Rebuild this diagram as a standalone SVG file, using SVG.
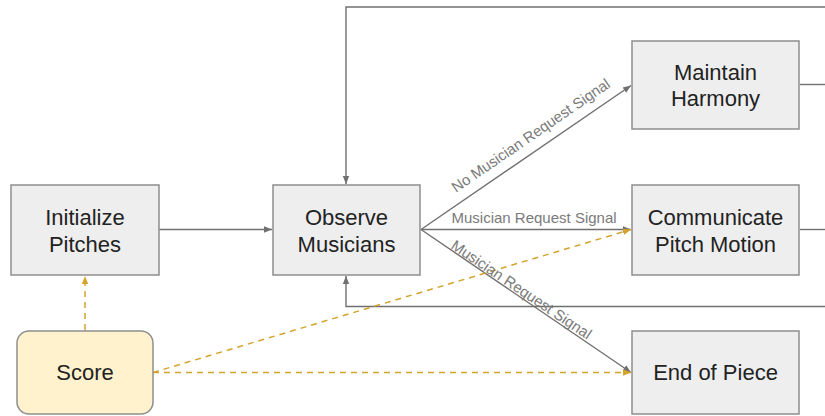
<svg xmlns="http://www.w3.org/2000/svg" width="825" height="416" viewBox="0 0 825 416">
<style>
.node{fill:#eeeeee;stroke:#8e8e8e;stroke-width:1.5}
.score{fill:#fff2cc;stroke:#8e8e8e;stroke-width:1.5}
.t{font-family:"Liberation Sans",Arial,sans-serif;font-size:22px;fill:#222;text-anchor:middle}
.c{fill:none;stroke:#707070;stroke-width:1.4}
.d{fill:none;stroke:#d4a42c;stroke-width:1.5;stroke-dasharray:6,5}
.lbl{font-family:"Liberation Sans",Arial,sans-serif;font-size:15px;fill:#7a7a7a}
</style>
<defs>
<marker id="ag" markerUnits="userSpaceOnUse" markerWidth="9" markerHeight="8" refX="8" refY="4" orient="auto"><path d="M0,0.8 L8,4 L0,7.2 z" fill="#707070"/></marker>
<marker id="ay" markerUnits="userSpaceOnUse" markerWidth="9" markerHeight="8" refX="8" refY="4" orient="auto"><path d="M0,0.8 L8,4 L0,7.2 z" fill="#d4a42c"/></marker>
</defs>
<rect width="825" height="416" fill="#ffffff"/>
<g id="connectors">
<path class="c" d="M159,229.5 H272" marker-end="url(#ag)"/>
<path class="c" d="M825,7 H346 V184" marker-end="url(#ag)"/>
<path class="c" d="M800,84.5 H825"/>
<path class="c" d="M800,229.5 H825"/>
<path class="c" d="M825,306.5 H346 V276" marker-end="url(#ag)"/>
<path class="c" d="M421,229.5 L631,85.5" marker-end="url(#ag)"/>
<path class="c" d="M421,229.5 H631" marker-end="url(#ag)"/>
<path class="c" d="M421,229.5 L631,372.5" marker-end="url(#ag)"/>
<path class="d" d="M85,330 V276" marker-end="url(#ay)"/>
<path class="d" d="M153,372.5 L631,229.5" marker-end="url(#ay)"/>
<path class="d" d="M153,372.5 H631" marker-end="url(#ay)"/>
<text class="lbl" transform="translate(456,193) rotate(-34.5)">No Musician Request Signal</text>
<text class="lbl" x="451.5" y="223">Musician Request Signal</text>
<text class="lbl" transform="translate(450,248) rotate(33.8)">Musician Request Signal</text>
</g>
<g id="initialize">
<rect class="node" x="11" y="185" width="148" height="90"/>
<text class="t" x="85" y="225">Initialize</text>
<text class="t" x="85" y="252">Pitches</text>
</g>
<g id="observe">
<rect class="node" x="273" y="185" width="147" height="90"/>
<text class="t" x="346.5" y="225">Observe</text>
<text class="t" x="346.5" y="252">Musicians</text>
</g>
<g id="maintain">
<rect class="node" x="632" y="41" width="167" height="88"/>
<text class="t" x="715.5" y="80">Maintain</text>
<text class="t" x="715.5" y="106">Harmony</text>
</g>
<g id="communicate">
<rect class="node" x="632" y="185" width="167" height="90"/>
<text class="t" x="715.5" y="225">Communicate</text>
<text class="t" x="715.5" y="252">Pitch Motion</text>
</g>
<g id="end">
<rect class="node" x="632" y="331" width="167" height="83"/>
<text class="t" x="715.5" y="380">End of Piece</text>
</g>
<g id="score">
<rect class="score" x="17" y="331" width="136" height="83" rx="12" ry="12"/>
<text class="t" x="85" y="380">Score</text>
</g>
</svg>
